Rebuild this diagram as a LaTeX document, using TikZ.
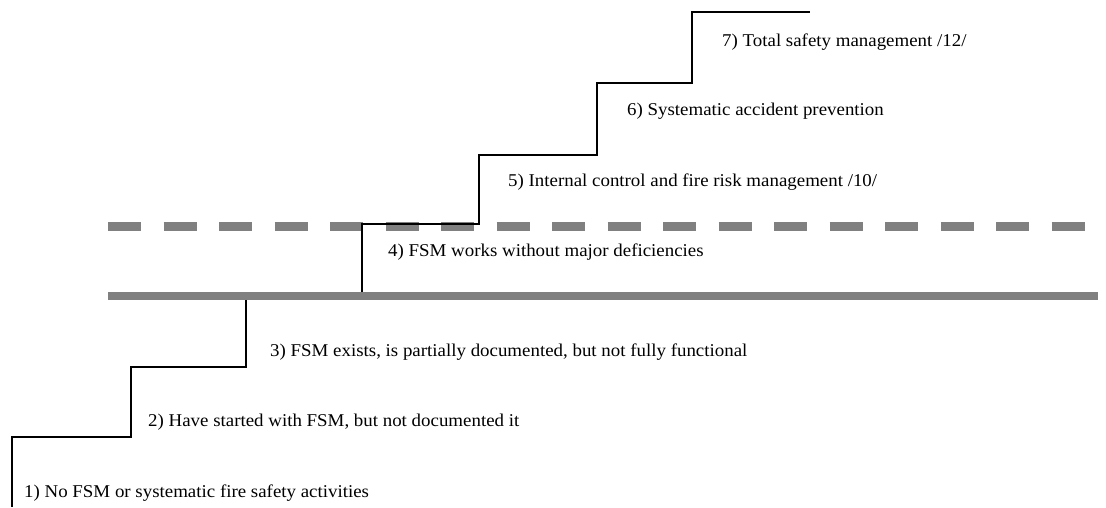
\documentclass[tikz,border=0pt]{standalone}
\usepackage{fontspec}
\setmainfont[FakeStretch=1.05]{Liberation Serif}
\begin{document}
\begin{tikzpicture}[x=1pt,y=-1pt,
  lbl/.style={anchor=base west,inner sep=0pt,font=\fontsize{18}{20}\selectfont},
  stair/.style={draw=black,line width=1.2pt,line join=miter},
  level/.style={draw=gray,line width=8pt},
  dlevel/.style={draw=gray,line width=9pt,dash pattern=on 33pt off 22.5pt}]
\useasboundingbox (0,0) rectangle (1106,507);
% levels
\draw[dlevel] (108,226) -- (1085,226);
\draw[level] (108,296) -- (1098,296);
% staircase
\coordinate (s0) at (12,507);
\coordinate (s1) at (12,437);
\coordinate (s2) at (131,437);
\coordinate (s3) at (131,367);
\coordinate (s4) at (246,367);
\coordinate (s5) at (246,300);
\coordinate (t0) at (362,292);
\coordinate (t1) at (362,224);
\coordinate (t2) at (479,224);
\coordinate (t3) at (479,155);
\coordinate (t4) at (597,155);
\coordinate (t5) at (597,83);
\coordinate (t6) at (692,83);
\coordinate (t7) at (692,12);
\coordinate (t8) at (810,12);
\draw[stair] (s0) -- (s1) -- (s2) -- (s3) -- (s4) -- (s5);
\draw[stair] (t0) -- (t1) -- (t2) -- (t3) -- (t4) -- (t5) -- (t6) -- (t7) -- (t8);
% labels
\node[lbl] (l1) at (24,497) {1) No FSM or systematic fire safety activities};
\node[lbl] (l2) at (148,426) {2) Have started with FSM, but not documented it};
\node[lbl] (l3) at (270,356) {3) FSM exists, is partially documented, but not fully functional};
\node[lbl] (l4) at (388,256) {4) FSM works without major deficiencies};
\node[lbl] (l5) at (508,186) {5) Internal control and fire risk management /10/};
\node[lbl] (l6) at (627,115) {6) Systematic accident prevention};
\node[lbl] (l7) at (722,46) {7) Total safety management /12/};
\end{tikzpicture}
\end{document}
